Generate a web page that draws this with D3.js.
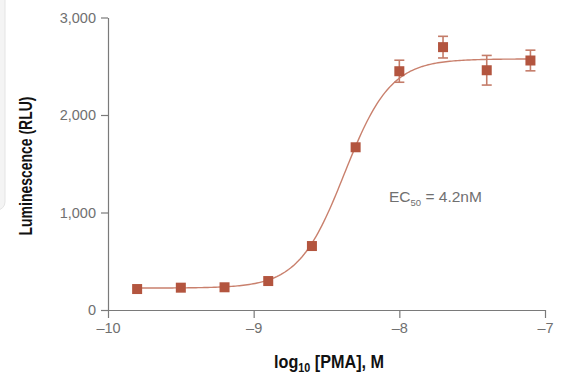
<!DOCTYPE html>
<html>
<head>
<meta charset="utf-8">
<script src="https://cdn.jsdelivr.net/npm/d3@7"></script>
<style>
  body { margin: 0; background: #fff; }
  .tick text { font-family: "Liberation Sans", Arial, sans-serif; font-size: 14.5px; fill: #707070; }
  .axis path, .axis line { stroke: #7a7a7a; stroke-width: 1.2; }
  .title { font-family: "Liberation Sans Narrow", "Liberation Sans", sans-serif; font-weight: bold; font-size: 18px; fill: #111; }
  .note { font-family: "Liberation Sans", Arial, sans-serif; font-size: 15.5px; fill: #707070; }
</style>
</head>
<body>
<svg id="chart" width="563" height="385"></svg>
<script>
// log10 concentration (M)
var logConc = [-9.8, -9.5, -9.2, -8.9, -8.6, -8.3, -8.0, -7.7, -7.4, -7.1]
// mean luminescence (RLU)
var lum = [215, 229, 233, 297, 656, 1669, 2449, 2696, 2459, 2559]
// error (+/-), 0 = no bar shown
var err = [0, 0, 0, 0, 0, 0, 113, 111, 152, 106]

var xTicks = [-10, -9, -8, -7]
var yTicks = [0, 1000, 2000, 3000]

// four-parameter logistic fit
var fitBottom = 225
var fitTop = 2575
var logEC50 = Math.log10(4.2e-9)
var hill = 2.75

var margin = { top: 17.5, right: 18, bottom: 75, left: 108 }
var width = 563 - margin.left - margin.right
var height = 385 - margin.top - margin.bottom

var svg = d3.select("#chart")

// faint panel edge at the left of the picture
svg.append("rect")
  .attr("x", -12).attr("y", -12)
  .attr("width", 17).attr("height", 222)
  .attr("rx", 8)
  .attr("fill", "#f4f4f4")
  .attr("stroke", "#e4e4e4")

var g = svg.append("g").attr("transform", "translate(" + margin.left + "," + margin.top + ")")

var x = d3.scaleLinear().domain([-10, -7]).range([0, width])
var y = d3.scaleLinear().domain([0, 3000]).range([height, 0])

var fmtX = function (d) { return String(d).replace("-", "\u2013") }

g.append("g")
  .attr("class", "axis")
  .attr("transform", "translate(0," + height + ")")
  .call(d3.axisBottom(x).tickValues(xTicks).tickFormat(fmtX).tickSize(8).tickSizeOuter(0).tickPadding(5))

g.append("g")
  .attr("class", "axis")
  .call(d3.axisLeft(y).tickValues(yTicks).tickFormat(d3.format(",")).tickSize(7).tickSizeOuter(0).tickPadding(5))

// fitted curve
var curvePts = d3.range(0, 201).map(function (i) {
  var lx = logConc[0] + (logConc[logConc.length - 1] - logConc[0]) * i / 200
  return [lx, fitBottom + (fitTop - fitBottom) / (1 + Math.pow(10, (logEC50 - lx) * hill))]
})

g.append("path")
  .datum(curvePts)
  .attr("fill", "none")
  .attr("stroke", "#c9806d")
  .attr("stroke-width", 1.4)
  .attr("d", d3.line().x(function (d) { return x(d[0]) }).y(function (d) { return y(d[1]) }))

var data = logConc.map(function (c, i) { return { c: c, v: lum[i], e: err[i] } })
var withErr = data.filter(function (d) { return d.e > 0 })

var eb = g.selectAll(".err").data(withErr).enter().append("g")
  .attr("class", "err")
  .attr("stroke", "#c47c69")
  .attr("stroke-width", 1.6)
eb.append("line")
  .attr("x1", function (d) { return x(d.c) }).attr("x2", function (d) { return x(d.c) })
  .attr("y1", function (d) { return y(d.v + d.e) }).attr("y2", function (d) { return y(d.v - d.e) })
eb.append("line")
  .attr("x1", function (d) { return x(d.c) - 5 }).attr("x2", function (d) { return x(d.c) + 5 })
  .attr("y1", function (d) { return y(d.v + d.e) }).attr("y2", function (d) { return y(d.v + d.e) })
eb.append("line")
  .attr("x1", function (d) { return x(d.c) - 5 }).attr("x2", function (d) { return x(d.c) + 5 })
  .attr("y1", function (d) { return y(d.v - d.e) }).attr("y2", function (d) { return y(d.v - d.e) })

g.selectAll(".pt").data(data).enter().append("rect")
  .attr("class", "pt")
  .attr("x", function (d) { return x(d.c) - 5 })
  .attr("y", function (d) { return y(d.v) - 5 })
  .attr("width", 10).attr("height", 10)
  .attr("fill", "#b3553f")

// EC50 note
var note = svg.append("text").attr("class", "note").attr("x", 389).attr("y", 202)
note.append("tspan").text("EC")
note.append("tspan").attr("font-size", "9.5px").attr("dy", 4).text("50")
note.append("tspan").attr("dy", -4).text(" = 4.2nM")

// axis titles
var xt = svg.append("text").attr("class", "title")
  .attr("transform", "translate(329,368) scale(0.9,1)")
  .attr("text-anchor", "middle")
xt.append("tspan").text("log")
xt.append("tspan").attr("font-size", "12px").attr("dy", 4).text("10")
xt.append("tspan").attr("dy", -4).text("\u00a0[PMA],\u00a0M")

svg.append("text").attr("class", "title")
  .attr("transform", "translate(32,166) rotate(-90)")
  .attr("text-anchor", "middle")
  .attr("textLength", 139).attr("lengthAdjust", "spacingAndGlyphs")
  .text("Luminescence (RLU)")
</script>
</body>
</html>
